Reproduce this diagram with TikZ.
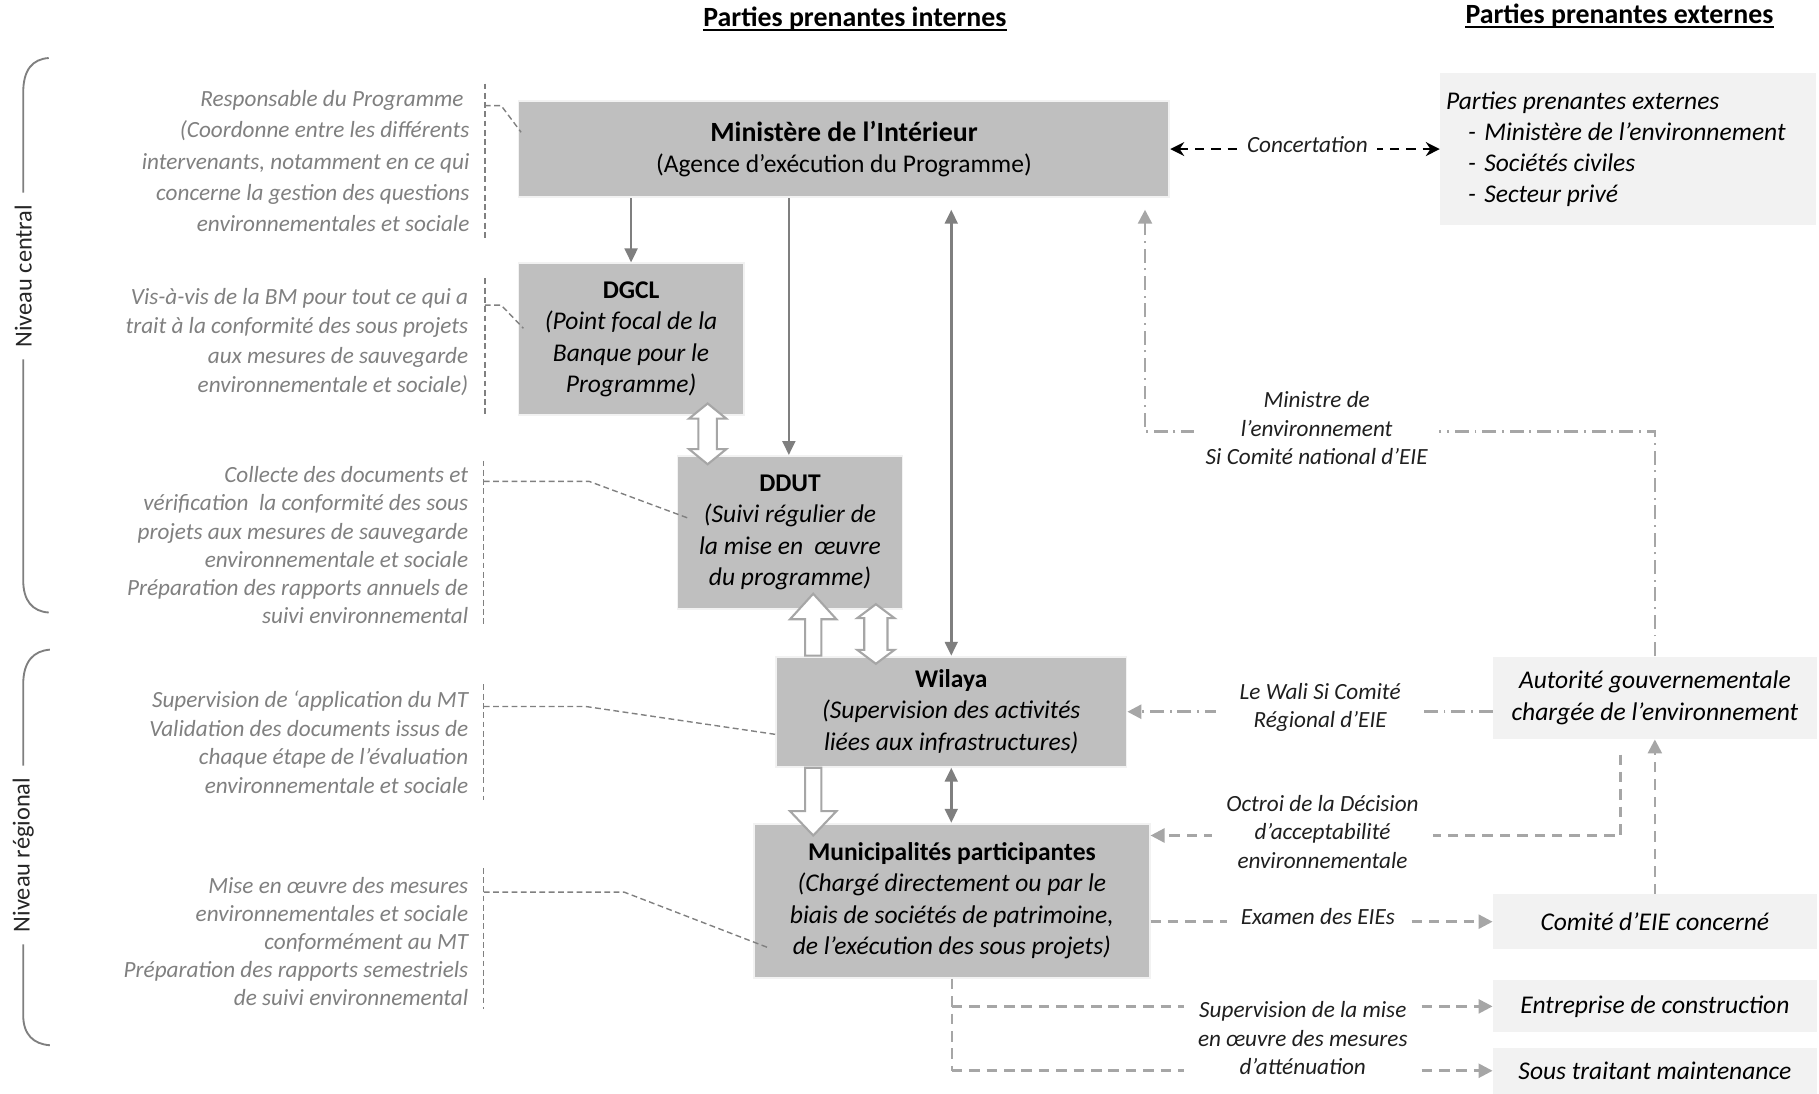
\documentclass[tikz,border=0pt]{standalone}
\usepackage{fontspec}
\setmainfont{Carlito}
\usetikzlibrary{arrows.meta,calc}
\definecolor{boxgrey}{HTML}{BFBFBF}
\definecolor{extgrey}{HTML}{F2F2F2}
\definecolor{arrgrey}{HTML}{7F7F7F}
\definecolor{lightarr}{HTML}{A6A6A6}
\definecolor{anngrey}{HTML}{808080}
\definecolor{lbltext}{HTML}{1F1F1F}
\newcommand{\blkdouble}[5]{%
  \path[blockarr] let \p1=(#1), \p2=(#2) in
   (\x1,\y1) -- ({\x1+#4},{\y1-#5}) -- ({\x1+#3},{\y1-#5}) -- ({\x1+#3},{\y2+#5})
   -- ({\x1+#4},{\y2+#5}) -- (\x1,\y2) -- ({\x1-#4},{\y2+#5}) -- ({\x1-#3},{\y2+#5})
   -- ({\x1-#3},{\y1-#5}) -- ({\x1-#4},{\y1-#5}) -- cycle;}
\newcommand{\blkup}[5]{%
  \path[blockarr] let \p1=(#1), \p2=(#2) in
   (\x1,\y1) -- ({\x1+#4},{\y1-#5}) -- ({\x1+#3},{\y1-#5}) -- ({\x1+#3},\y2)
   -- ({\x1-#3},\y2) -- ({\x1-#3},{\y1-#5}) -- ({\x1-#4},{\y1-#5}) -- cycle;}
\newcommand{\blkdown}[5]{%
  \path[blockarr] let \p1=(#1), \p2=(#2) in
   ({\x1+#3},\y1) -- ({\x1+#3},{\y2+#5}) -- ({\x1+#4},{\y2+#5}) -- (\x1,\y2)
   -- ({\x1-#4},{\y2+#5}) -- ({\x1-#3},{\y2+#5}) -- ({\x1-#3},\y1) -- cycle;}
\begin{document}
\begin{tikzpicture}[x=0.5pt,y=-0.5pt,
  mainbox/.style={fill=boxgrey, draw=white!80!boxgrey, line width=0.8pt, inner sep=0pt,
    align=center, text=black, font=\fontsize{11}{13.5}\selectfont},
  extbox/.style={fill=extgrey, draw=none, inner sep=0pt, align=center, text=black,
    font=\fontsize{11}{13.5}\selectfont\itshape},
  ann/.style={anchor=east, align=right, inner sep=0pt, text=anngrey},
  annline/.style={draw=anngrey, line width=0.6pt, dash pattern=on 2.5pt off 1.5pt},
  hdr/.style={inner sep=0pt, font=\fontsize{12}{14}\selectfont\bfseries, text=black},
  brk/.style={draw=arrgrey, line width=0.8pt},
  lvl/.style={rotate=90, inner xsep=5pt, inner ysep=0pt, font=\fontsize{10.5}{12}\selectfont, text=black!85},
  solidarr/.style={draw=arrgrey, line width=1.1pt, -{Triangle[length=6pt,width=5.5pt]}},
  soliddbl/.style={draw=arrgrey, line width=1.1pt, {Triangle[length=6pt,width=5.5pt]}-{Triangle[length=6pt,width=5.5pt]}},
  concarr/.style={draw=black, line width=1pt, dash pattern=on 4pt off 3pt,
    {Stealth[length=6pt,width=6pt]}-{Stealth[length=6pt,width=6pt]}},
  ddarr/.style={draw=lightarr, line width=1.1pt, dash pattern=on 6pt off 2.5pt on 0.8pt off 2.5pt,
    -{Triangle[length=6pt,width=6pt]}},
  dashl/.style={draw=lightarr, line width=1.1pt, dash pattern=on 4.5pt off 3pt},
  dasharr/.style={dashl, -{Triangle[length=6pt,width=6pt]}},
  lbl/.style={fill=white, inner xsep=4pt, inner ysep=2pt, align=center, text=lbltext,
    font=\fontsize{10}{12.3}\selectfont\itshape},
  blockarr/.style={fill=white, draw=lightarr, line width=0.9pt, line join=miter}
]
\useasboundingbox (0,0) rectangle (1568,943);
\fill[white] (0,0) rectangle (1568,943);

% ---------- headers ----------
\node[hdr] (hin) at (737,16) {Parties prenantes internes};
\draw[line width=0.9pt] ($(hin.base west)+(0,3)$) -- ($(hin.base east)+(0,3)$);
\node[hdr] (hex) at (1396,14) {Parties prenantes externes};
\draw[line width=0.9pt] ($(hex.base west)+(0,3)$) -- ($(hex.base east)+(0,3)$);

% ---------- level brackets ----------
\node[lvl] (nc) at (20,238) {Niveau central};
\draw[brk] (42,50) .. controls (28,51) and (20,60) .. (20,80) -- (nc.east);
\draw[brk] (nc.west) -- (20,500) .. controls (20,518) and (28,527) .. (42,528);
\node[lvl] (nr) at (20,737) {Niveau régional};
\draw[brk] (43,560) .. controls (29,561) and (20,570) .. (20,590) -- (nr.east);
\draw[brk] (nr.west) -- (20,875) .. controls (20,892) and (29,900) .. (43,901);

% ---------- main boxes ----------
\node[mainbox, minimum width=280.5pt, minimum height=41.5pt] (min) at (727.5,128.5)
  {{\fontsize{12}{14.5}\selectfont\bfseries Ministère de l’Intérieur}\\(Agence d’exécution du Programme)};
\node[mainbox, minimum width=97pt, minimum height=65.5pt, font=\fontsize{11}{13.5}\selectfont\itshape] (dgcl) at (544,292.5)
  {{\bfseries\upshape DGCL}\\(Point focal de la\\Banque pour le\\Programme)};
\node[mainbox, minimum width=97pt, minimum height=66pt, font=\fontsize{11}{13.5}\selectfont\itshape] (ddut) at (681,459)
  {{\bfseries\upshape DDUT}\\(Suivi régulier de\\la mise en~ œuvre\\du programme)};
\node[mainbox, minimum width=151pt, minimum height=47.5pt, font=\fontsize{11}{13.5}\selectfont\itshape] (wil) at (820,613.5)
  {{\bfseries\upshape Wilaya}\\(Supervision des activités\\liées aux infrastructures)};
\node[mainbox, minimum width=170.5pt, minimum height=66.5pt, font=\fontsize{11}{13.5}\selectfont\itshape] (mun) at (820.5,776.5)
  {{\bfseries\upshape Municipalités participantes}\\(Chargé directement ou par le\\biais de sociétés de patrimoine,\\de l’exécution des sous projets)};

% ---------- external boxes ----------
\node[extbox, text width=157pt, inner xsep=2.5pt, minimum height=65.5pt, align=flush left,
  font=\fontsize{11}{13.3}\selectfont\itshape] (ppe) at (1403.5,128.5)
  {Parties prenantes externes\\
   \makebox[16.5pt][l]{\hspace{9.5pt}-}Ministère de l’environnement\\
   \makebox[16.5pt][l]{\hspace{9.5pt}-}Sociétés civiles\\
   \makebox[16.5pt][l]{\hspace{9.5pt}-}Secteur privé};
\node[extbox, minimum width=139.5pt, minimum height=35.5pt] (aut) at (1426.5,601.5)
  {Autorité gouvernementale\\chargée de l’environnement};
\node[extbox, minimum width=139.5pt, minimum height=23.5pt] (com) at (1426.5,794.5) {Comité d’EIE concerné};
\node[extbox, minimum width=139.5pt, minimum height=22.5pt] (ent) at (1426.5,867.5) {Entreprise de construction};
\node[extbox, minimum width=139.5pt, minimum height=20pt] (sou) at (1426.5,923) {Sous traitant maintenance};

% ---------- left annotations ----------
\node[ann, font=\fontsize{10}{13.5}\selectfont\itshape] (a1) at (405,139)
  {Responsable du Programme\hspace*{2.5pt}\\(Coordonne entre les différents\\intervenants, notamment en ce qui\\concerne la gestion des questions\\environnementales et sociale};
\node[ann, font=\fontsize{10}{12.7}\selectfont\itshape] (a2) at (404,295)
  {Vis-à-vis de la BM pour tout ce qui a\\trait à la conformité des sous projets\\aux mesures de sauvegarde\\environnementale et sociale)};
\node[ann, font=\fontsize{10}{12.2}\selectfont\itshape] (a3) at (404,470)
  {Collecte des documents et\\vérification~ la conformité des sous\\projets aux mesures de sauvegarde\\environnementale et sociale\\Préparation des rapports annuels de\\suivi environnemental};
\node[ann, font=\fontsize{10}{12.3}\selectfont\itshape] (a4) at (404,640)
  {Supervision de ‘application du MT\\Validation des documents issus de\\chaque étape de l’évaluation\\environnementale et sociale};
\node[ann, font=\fontsize{10}{12.1}\selectfont\itshape] (a5) at (404,811.5)
  {Mise en œuvre des mesures\\environnementales et sociale\\conformément au MT\\Préparation des rapports semestriels\\de suivi environnemental};

\coordinate (v1t) at (418,72);  \coordinate (v1b) at (418,205);
\coordinate (v2t) at (418,240); \coordinate (v2b) at (418,357);
\coordinate (v3t) at (417,397); \coordinate (v3b) at (417,541);
\coordinate (v4t) at (417,590); \coordinate (v4b) at (417,690);
\coordinate (v5t) at (417,748); \coordinate (v5b) at (417,870);
\draw[annline] (v1t) -- (v1b);
\draw[annline] (v2t) -- (v2b);
\draw[annline] (v3t) -- (v3b);
\draw[annline] (v4t) -- (v4b);
\draw[annline] (v5t) -- (v5b);
\draw[annline] ($(v1t)+(0,19)$) -- ++(14,0) -- ($(min.west)+(3,-14.5)$);
\draw[annline] ($(v2t)+(0,23)$) -- ++(14,0) -- ($(dgcl.west)+(5,-9.5)$);
\draw[annline] ($(v3t)+(0,18)$) -- ++(91,0) -- ($(ddut.west)+(11,-12)$);
\draw[annline] ($(v4t)+(0,19)$) -- ++(88,0) -- ($(wil.west)+(0,19.5)$);
\draw[annline] ($(v5t)+(0,21)$) -- ++(121,0) -- ($(mun.west)+(12,40)$);

% ---------- solid connectors ----------
\draw[solidarr] (min.south -| dgcl.north) -- (dgcl.north);
\draw[solidarr] ($(min.south -| ddut.north)+(-1,0)$) -- ($(ddut.north)+(-1,0)$);
\draw[soliddbl, shorten <=5pt] (min.south -| wil.north) -- (wil.north);
\draw[soliddbl] (wil.south) -- (wil.south |- mun.north);

% ---------- block arrows ----------
\coordinate (b1t) at ($(dgcl.south)+(66,-11)$);
\coordinate (b1b) at ($(ddut.north)+(-71,8)$);
\blkdouble{b1t}{b1b}{4pt}{8pt}{6.5pt}
\coordinate (b2t) at ($(ddut.south)+(20,-14)$);
\coordinate (b2b) at (b2t |- wil.north);
\blkup{b2t}{b2b}{3.5pt}{10pt}{11pt}
\coordinate (b3t) at (b2t |- wil.south);
\coordinate (b3b) at ($(b2t |- mun.north)+(0,11)$);
\blkdown{b3t}{b3b}{3.5pt}{10pt}{10.5pt}
\coordinate (b4t) at ($(ddut.south)+(74,-5)$);
\coordinate (b4b) at ($(wil.north)+(-65,7)$);
\blkdouble{b4t}{b4b}{5pt}{8pt}{6pt}

% ---------- concertation ----------
\draw[concarr] (min.east) -- (ppe.west);
\node[lbl] (lconc) at (1127,125) {Concertation};

% ---------- right side connectors ----------
\coordinate (mturn) at (987,372);
\draw[ddarr, shorten >=5pt] (aut.north) |- (mturn) -- (mturn |- min.south);
\node[lbl, inner xsep=5pt] (lmin) at (1135,369) {Ministre de\\l’environnement\\Si Comité national d’EIE};

\draw[ddarr] (wil.east -| aut.west) -- (wil.east);
\node[lbl, inner xsep=10pt] (lwal) at (1138,610) {Le Wali Si Comité\\Régional d’EIE};

\coordinate (octs) at ($(aut.south)+(-29.5,13)$);
\coordinate (octe) at ($(mun.north east)+(0,11)$);
\draw[dasharr] (octs) |- (octe);
\node[lbl, inner xsep=6pt] (loct) at (1140,717) {Octroi de la Décision\\d’acceptabilité\\environnementale};

\draw[dasharr] (com.west -| mun.east) -- (com.west);
\node[lbl, inner xsep=6pt] (lexa) at (1136,790) {Examen des EIEs};

\draw[dasharr] (com.north) -- (aut.south);

\draw[dashl] (mun.south) -- (mun.south |- sou.west);
\draw[dasharr] (mun.south |- ent.west) -- (ent.west);
\draw[dasharr] (mun.south |- sou.west) -- (sou.west);
\node[lbl, inner xsep=6pt] (lsup) at (1123,895) {Supervision de la mise\\en œuvre des mesures\\d’atténuation};
\end{tikzpicture}
\end{document}
